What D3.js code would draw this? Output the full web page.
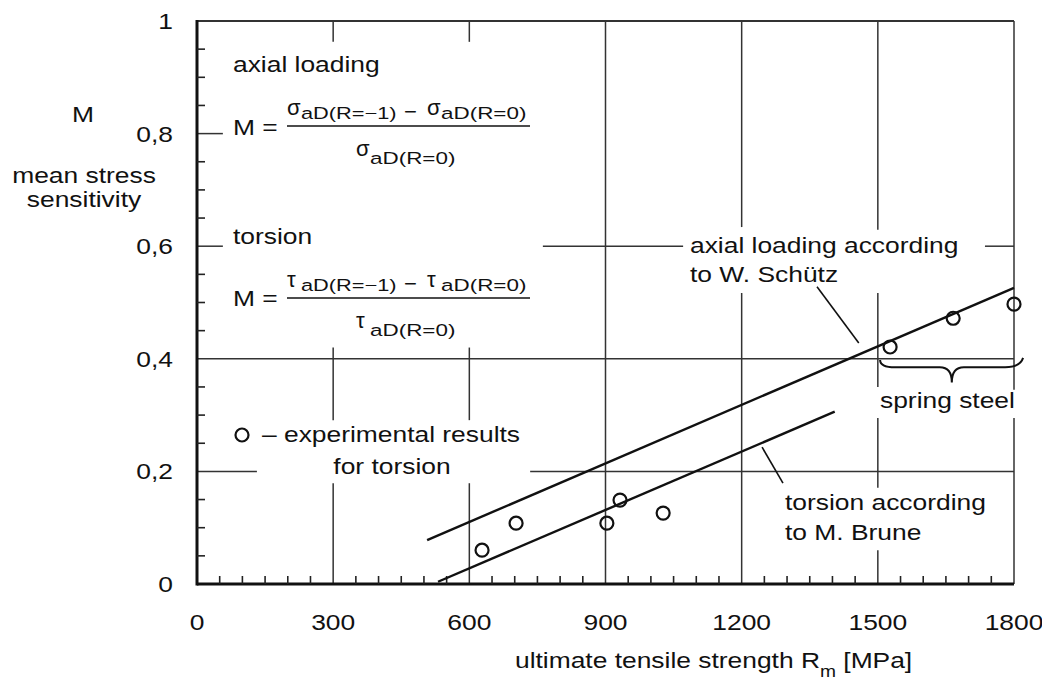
<!DOCTYPE html>
<html>
<head>
<meta charset="utf-8">
<script src="https://cdn.jsdelivr.net/npm/d3@7"></script>
<style>
  body { margin: 0; background: #fff; }
  text { font-family: "Liberation Sans", Arial, sans-serif; fill: #111; }
</style>
</head>
<body>
<div id="canvas"></div>
<script>
"use strict";

/* ---------- data ---------- */

let xTicks = [0, 300, 600, 900, 1200, 1500, 1800];
let yTicks = [0, 0.2, 0.4, 0.6, 0.8, 1];
let yTickLabels = ["0", "0,2", "0,4", "0,6", "0,8", "1"];

// experimental results for torsion
let torsionRm = [628, 703, 903, 932, 1027, 1527, 1666, 1800];
let torsionM = [0.060, 0.108, 0.108, 0.149, 0.126, 0.421, 0.472, 0.497];

// axial loading according to W. Schütz
let schutzRm = [507, 1800];
let schutzM = [0.078, 0.526];

// torsion according to M. Brune
let bruneRm = [531, 1405];
let bruneM = [0.004, 0.306];

// leader lines from labels to curves
let schutzLeader = [[1366, 0.528], [1458, 0.428]];
let bruneLeader = [[1245, 0.243], [1291, 0.179]];

// grid segments (gaps leave room for the texts)
let vGrid = [
    {x: 300, parts: [[0.963, 1], [0.291, 0.420], [0, 0.179]]},
    {x: 600, parts: [[0.963, 1], [0.291, 0.420], [0, 0.179]]},
    {x: 900, parts: [[0, 1]]},
    {x: 1200, parts: [[0.634, 1], [0, 0.517]]},
    {x: 1500, parts: [[0.629, 1], [0.350, 0.517], [0.171, 0.295], [0, 0.060]]},
    {x: 1800, parts: [[0.345, 1], [0, 0.295]]}
];
let hGrid = [
    {y: 1, parts: [[0, 1800]]},
    {y: 0.8, parts: [[0, 57]]},
    {y: 0.6, parts: [[0, 57], [762, 1071], [1736, 1800]]},
    {y: 0.4, parts: [[0, 1800]]},
    {y: 0.2, parts: [[0, 132], [734, 1800]]}
];

/* ---------- canvas ---------- */

let svgWidth = 1042;
let svgHeight = 685;

let svg = d3.select("#canvas")
    .append("svg")
    .attr("width", svgWidth)
    .attr("height", svgHeight);

let xScale = d3.scaleLinear().domain([0, 1800]).range([197, 1014]);
let yScale = d3.scaleLinear().domain([0, 1]).range([584, 21]);

// text is a bit wider than Liberation Sans, so stretch it horizontally
function label(x, y, str, size, anchor, sx) {
    return svg.append("text")
        .attr("transform", "translate(" + x + "," + y + ") scale(" + (sx || 1.2) + ",1)")
        .attr("text-anchor", anchor || "start")
        .style("font-size", (size || 22) + "px")
        .text(str);
}

/* ---------- grid ---------- */

vGrid.forEach(function(g) {
    g.parts.forEach(function(p) {
        svg.append("line")
            .attr("x1", xScale(g.x)).attr("x2", xScale(g.x))
            .attr("y1", yScale(p[0])).attr("y2", yScale(p[1]))
            .attr("stroke", "#333").attr("stroke-width", 1.5);
    });
});

hGrid.forEach(function(g) {
    g.parts.forEach(function(p) {
        svg.append("line")
            .attr("x1", xScale(p[0])).attr("x2", xScale(p[1]))
            .attr("y1", yScale(g.y)).attr("y2", yScale(g.y))
            .attr("stroke", "#333").attr("stroke-width", g.y === 1 ? 2.2 : 1.5);
    });
});

/* ---------- axes ---------- */

svg.append("line")
    .attr("x1", xScale(0)).attr("x2", xScale(0))
    .attr("y1", yScale(0) + 1.5).attr("y2", yScale(1) - 1)
    .attr("stroke", "#111").attr("stroke-width", 3);

svg.append("line")
    .attr("x1", xScale(0)).attr("x2", xScale(1800))
    .attr("y1", yScale(0)).attr("y2", yScale(0))
    .attr("stroke", "#111").attr("stroke-width", 3);

// minor ticks, pointing inwards
d3.range(50, 1800, 50).filter(v => v % 300 !== 0).forEach(function(v) {
    svg.append("line")
        .attr("x1", xScale(v)).attr("x2", xScale(v))
        .attr("y1", yScale(0)).attr("y2", yScale(0) - 8)
        .attr("stroke", "#222").attr("stroke-width", 1.6);
});

d3.range(0.05, 1, 0.05).filter(v => Math.round(v * 100) % 20 !== 0).forEach(function(v) {
    svg.append("line")
        .attr("x1", xScale(0)).attr("x2", xScale(0) + 8)
        .attr("y1", yScale(v)).attr("y2", yScale(v))
        .attr("stroke", "#222").attr("stroke-width", 1.6);
});

// tick labels
xTicks.forEach(function(v) {
    label(xScale(v), 630, String(v), 22, "middle");
});

yTicks.forEach(function(v, i) {
    label(173, yScale(v) + 8, yTickLabels[i], 22, "end");
});

/* ---------- axis titles ---------- */

label(83, 122, "M", 22, "middle");
label(84, 183, "mean stress", 22, "middle");
label(84, 207, "sensitivity", 22, "middle");

let xTitle = label(515, 668, "ultimate tensile strength R", 22, "start");
xTitle.append("tspan").attr("dy", 9).style("font-size", "16px").text("m");
xTitle.append("tspan").attr("dy", -9).text(" [MPa]");

/* ---------- curves ---------- */

let line = d3.line()
    .x(d => xScale(d[0]))
    .y(d => yScale(d[1]));

svg.append("path")
    .attr("d", line(d3.zip(schutzRm, schutzM)))
    .attr("fill", "none").attr("stroke", "#111").attr("stroke-width", 2.4);

svg.append("path")
    .attr("d", line(d3.zip(bruneRm, bruneM)))
    .attr("fill", "none").attr("stroke", "#111").attr("stroke-width", 2.4);

[schutzLeader, bruneLeader].forEach(function(l) {
    svg.append("path")
        .attr("d", line(l))
        .attr("fill", "none").attr("stroke", "#111").attr("stroke-width", 1.6);
});

/* ---------- experimental points ---------- */

svg.selectAll("circle.pt")
    .data(d3.zip(torsionRm, torsionM))
    .join("circle")
    .attr("class", "pt")
    .attr("cx", d => xScale(d[0]))
    .attr("cy", d => yScale(d[1]))
    .attr("r", 6.5)
    .attr("fill", "none")
    .attr("stroke", "#111")
    .attr("stroke-width", 2.2);

/* ---------- spring steel brace ---------- */

let bx0 = xScale(1505), bx1 = xScale(1820), bxm = xScale(1663);
let byTop = yScale(0.398), byMid = yScale(0.385), byTip = yScale(0.358);

let brace = d3.path();
brace.moveTo(bx0, byTop);
brace.quadraticCurveTo(bx0, byMid, bx0 + 15, byMid);
brace.lineTo(bxm - 12, byMid);
brace.quadraticCurveTo(bxm, byMid, bxm, byTip);
brace.quadraticCurveTo(bxm, byMid, bxm + 12, byMid);
brace.lineTo(bx1 - 18, byMid);
brace.quadraticCurveTo(bx1 - 3, byMid, bx1, byTop - 2);

svg.append("path")
    .attr("d", brace.toString())
    .attr("fill", "none").attr("stroke", "#111").attr("stroke-width", 2);

label(880, 408, "spring steel");

/* ---------- annotations ---------- */

label(690, 253, "axial loading according");
label(690, 282, "to W. Schütz");

label(785, 510, "torsion according");
label(785, 540, "to M. Brune");

svg.append("circle")
    .attr("cx", 242).attr("cy", 435).attr("r", 6.5)
    .attr("fill", "none").attr("stroke", "#111").attr("stroke-width", 2.2);
label(391, 442, "\u2013 experimental results", 22, "middle");
label(392, 474, "for torsion", 22, "middle");

/* ---------- formulas ---------- */

function fraction(sym, top, baseY) {
    // top: y of the fraction bar
    label(233, baseY, "M =");
    svg.append("line")
        .attr("x1", 287).attr("x2", 530)
        .attr("y1", top).attr("y2", top)
        .attr("stroke", "#111").attr("stroke-width", 1.6);
    label(287, top - 11, sym, 22, "start", 1.0);
    label(301, top - 7, "aD(R=\u22121)", 16.5, "start", 1.32);
    label(404, top - 7, "\u2212", 22, "start", 1.0);
    label(427, top - 11, sym, 22, "start", 1.0);
    label(441, top - 7, "aD(R=0)", 16.5, "start", 1.36);
    label(356, top + 30, sym, 22, "start", 1.0);
    label(370, top + 38, "aD(R=0)", 16.5, "start", 1.36);
}

label(233, 72, "axial loading");
fraction("\u03c3", 126, 135);

label(233, 244, "torsion");
fraction("\u03c4", 298, 306);
</script>
</body>
</html>
